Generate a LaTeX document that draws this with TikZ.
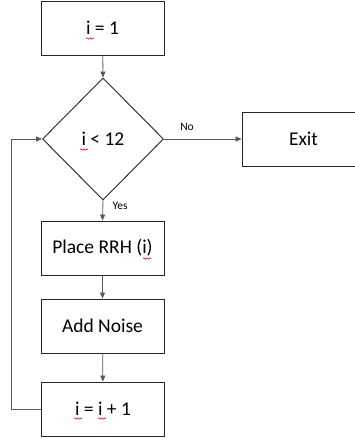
\documentclass[tikz,border=0pt]{standalone}
\usepackage{fontspec}
\setmainfont{Carlito}
\usetikzlibrary{shapes.geometric,arrows.meta,decorations.pathmorphing}
\begin{document}
\begin{tikzpicture}[x=1pt,y=-1pt,
  procbox/.style={draw=black!85,line width=0.9pt,minimum width=123pt,minimum height=54pt,inner sep=0pt,font=\fontsize{19.5}{22}\selectfont},
  decbox/.style={draw=black!85,line width=0.9pt,shape=diamond,minimum width=121pt,minimum height=122pt,inner sep=0pt,font=\fontsize{19.5}{22}\selectfont},
  conn/.style={draw=black!65,line width=0.8pt,-{Triangle[length=6pt,width=5pt]}},
  lbl/.style={font=\fontsize{11.5}{13}\selectfont,inner sep=0pt},
  squig/.style={draw=red!80!black,line width=0.5pt,decorate,decoration={snake,amplitude=0.8pt,segment length=3pt}}]
\useasboundingbox (0,0) rectangle (354,441);
\node[procbox] (init) at (102.5,28) {i = 1};
\node[decbox] (cond) at (103,139) {i < 12};
\node[procbox] (exit) at (303.5,139) {Exit};
\node[procbox] (place) at (102.5,248) {Place RRH (i)};
\node[procbox] (noise) at (102.5,326) {Add Noise};
\node[procbox] (inc) at (103,409) {i = i + 1};
\coordinate (lb) at (11,409);
\coordinate (lt) at (11,139);
\draw[conn] (init) -- (cond.north);
\draw[conn] (cond.east) -- (exit.west);
\draw[conn] (cond.south) -- (place.north);
\draw[conn] (place) -- (noise);
\draw[conn] (noise) -- (inc);
\draw[conn] (inc.west) -- (lb) -- (lt) -- (cond.west);
\node[lbl] (no) at (187,127) {No};
\node[lbl] (yes) at (120,206) {Yes};
\draw[squig] (86,38.5) -- (94,38.5);
\draw[squig] (80,149.5) -- (88,149.5);
\draw[squig] (143,258.5) -- (151,258.5);
\draw[squig] (74,418.5) -- (82,418.5);
\draw[squig] (98,418.5) -- (106,418.5);
\end{tikzpicture}
\end{document}
